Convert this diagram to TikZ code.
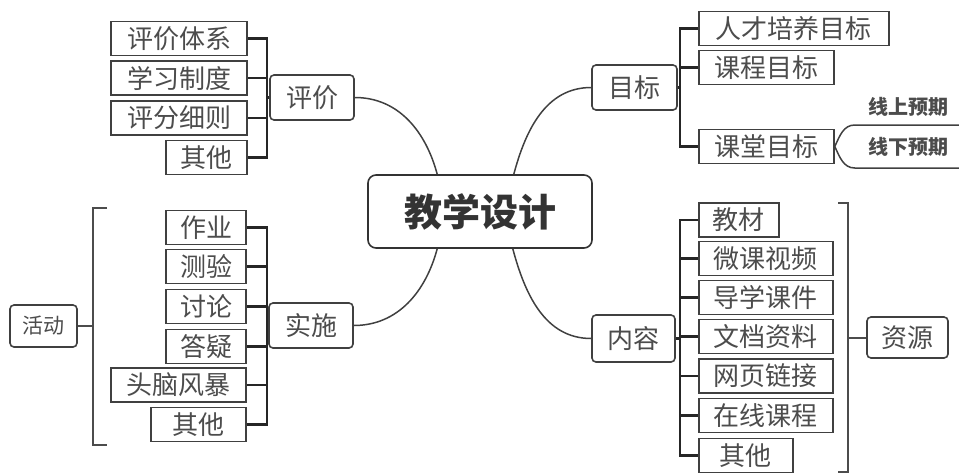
\documentclass[tikz,border=0pt]{standalone}
\usepackage{fontspec}
\setmainfont{Noto Sans CJK SC}
\usetikzlibrary
  {
    positioning, % place nodes relative to other nodes
    calc,
  }

\begin{document}
\begin{tikzpicture}
    [
      x=1pt, y=-1pt,
      every node/.style=
        {
          text=black!70,
          font=\fontsize{26}{30}\selectfont,
        },
      leaf/.style=
        {
          rectangle,
          draw=black!75,
          line width=1.8pt,
          minimum width=#1,
          minimum height=34pt,
          inner sep=0pt,
        },
      topic/.style=
        {
          rectangle,
          rounded corners=4pt,
          draw=black!75,
          line width=1.6pt,
          minimum width=#1,
          minimum height=45pt,
          inner sep=0pt,
        },
      hub/.style=
        {
          rectangle,
          rounded corners=8pt,
          draw=black!80,
          line width=1.6pt,
          minimum width=224pt,
          minimum height=73pt,
          text=black!80,
          font=\fontsize{38}{44}\selectfont\bfseries,
        },
      note/.style=
        {
          font=\fontsize{20}{24}\selectfont\bfseries,
          text=black!70,
        },
      branch/.style={draw=black!85, line width=2.4pt},
      link/.style={draw=black!75, line width=1.5pt},
      bracket/.style={draw=black!70, line width=2pt},
    ]
    \useasboundingbox (0,0) rectangle (959,475);

    % centre
    \node (design) [hub] at (480,211.5) {教学设计};

    % evaluation
    \node (pj) [topic=84] at (312,97.5) {评价};
    \node (pjtx) [leaf=136, anchor=east] at (248,38.5) {评价体系};
    \node (xxzd) [leaf=136, anchor=east] at (248,78) {学习制度};
    \node (pfxz) [leaf=136, anchor=east] at (248,118) {评分细则};
    \node (pjqt) [leaf=81, anchor=east] at (248,157.5) {其他};
    \coordinate (pjbar) at (267,97.5);
    \draw [branch] (pjtx.east) -- (pjtx.east -| pjbar) -- (pjqt.east -| pjbar) -- (pjqt.east);
    \foreach \n in {xxzd, pfxz}
      \draw [branch] (\n.east) -- (\n.east -| pjbar);
    \draw [branch] (pjbar) -- (pj.west);

    % implementation
    \node (ss) [topic=84] at (311,325.5) {实施};
    \node (zy) [leaf=80, anchor=east] at (247,227.5) {作业};
    \node (cy) [leaf=80, anchor=east] at (247,266.5) {测验};
    \node (tl) [leaf=80, anchor=east] at (247,306.5) {讨论};
    \node (dy) [leaf=80, anchor=east] at (247,346.5) {答疑};
    \node (tnfb) [leaf=135, anchor=east] at (247,385) {头脑风暴};
    \node (ssqt) [leaf=95, anchor=east] at (247,424.5) {其他};
    \coordinate (ssbar) at (267,325.5);
    \draw [branch] (zy.east) -- (zy.east -| ssbar) -- (ssqt.east -| ssbar) -- (ssqt.east);
    \foreach \n in {cy, tl, dy, tnfb}
      \draw [branch] (\n.east) -- (\n.east -| ssbar);
    \draw [branch] (ssbar) -- (ss.west);

    % activities
    \node (hd) [topic=67, minimum height=42pt, font=\fontsize{21}{24}\selectfont] at (43.5,326) {活动};
    \coordinate (hdtop) at (107,208);
    \coordinate (hdbot) at (107,445);
    \coordinate (hdmid) at (93,326);
    \draw [bracket] (hdtop) -- (hdtop -| hdmid) -- (hdbot -| hdmid) -- (hdbot);
    \draw [bracket] (hd.east) -- (hdmid);

    % goals
    \node (mb) [topic=85] at (634.5,87.5) {目标};
    \node (rcpy) [leaf=190, anchor=west] at (698,28.5) {人才培养目标};
    \node (kcmb) [leaf=135, anchor=west] at (698,67.5) {课程目标};
    \node (ktmb) [leaf=135, anchor=west] at (698,146.5) {课堂目标};
    \coordinate (mbbar) at (680,87.5);
    \draw [branch] (rcpy.west) -- (rcpy.west -| mbbar) -- (ktmb.west -| mbbar) -- (ktmb.west);
    \draw [branch] (kcmb.west) -- (kcmb.west -| mbbar);
    \draw [branch] (mb.east) -- (mbbar);

    % online / offline
    \node (xs) [note] at (908,107) {线上预期};
    \node (xx) [note] at (908,147) {线下预期};
    \coordinate (xsend) at (959,125);
    \coordinate (xxend) at (959,168);
    \draw [link] (ktmb.east) to[out=65, in=180] ++(20,-21.5) -- (xsend);
    \draw [link] (ktmb.east) to[out=-65, in=180] ++(20,21.5) -- (xxend);

    % content
    \node (nr) [topic=83, minimum height=47pt] at (633.5,338.5) {内容};
    \node (jc) [leaf=80, anchor=west] at (698,220) {教材};
    \node (wksp) [leaf=134, anchor=west] at (698,258.5) {微课视频};
    \node (dxkj) [leaf=134, anchor=west] at (698,297.5) {导学课件};
    \node (wdzl) [leaf=134, anchor=west] at (698,336.5) {文档资料};
    \node (wylj) [leaf=134, anchor=west] at (698,376) {网页链接};
    \node (zxkc) [leaf=134, anchor=west] at (698,415.5) {在线课程};
    \node (nrqt) [leaf=94, anchor=west] at (698,455.5) {其他};
    \coordinate (nrbar) at (680,338.5);
    \draw [branch] (jc.west) -- (jc.west -| nrbar) -- (nrqt.west -| nrbar) -- (nrqt.west);
    \foreach \n in {wksp, dxkj, wdzl, wylj, zxkc}
      \draw [branch] (\n.west) -- (\n.west -| nrbar);
    \draw [branch] (nr.east) -- (nrbar);

    % resources
    \node (zy2) [topic=81, minimum height=41pt] at (907.5,337.5) {资源};
    \coordinate (zytop) at (838,203);
    \coordinate (zybot) at (838,472);
    \coordinate (zymid) at (848,337.5);
    \draw [bracket] (zytop) -- (zytop -| zymid) -- (zybot -| zymid) -- (zybot);
    \draw [bracket] (zymid) -- (zy2.west);

    % curves to the centre
    \draw [link] (pj.east) to[out=0, in=105] ([xshift=70pt]design.north west);
    \draw [link] (ss.east) to[out=0, in=-105] ([xshift=70pt]design.south west);
    \draw [link] (mb.west) to[out=180, in=75] ([xshift=-79pt]design.north east);
    \draw [link] (nr.west) to[out=180, in=-75] ([xshift=-80pt]design.south east);
  \end{tikzpicture}
\end{document}
